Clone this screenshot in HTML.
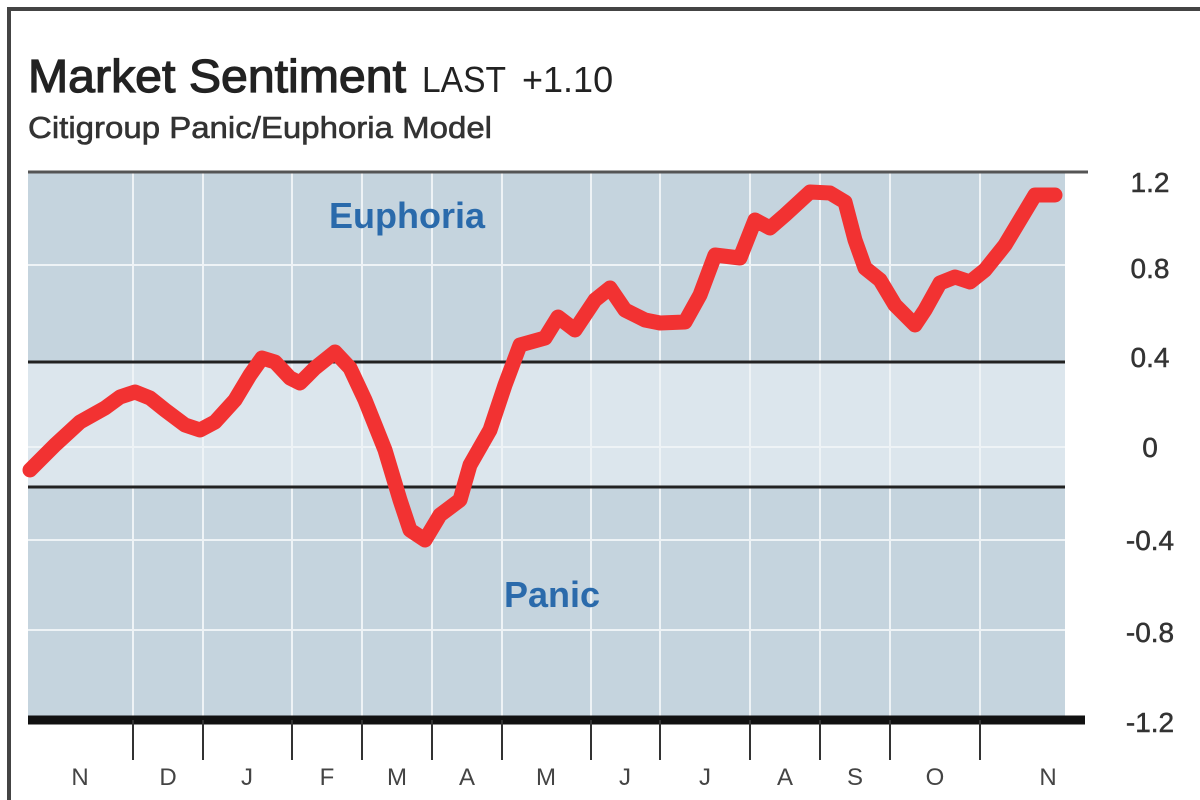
<!DOCTYPE html>
<html><head><meta charset="utf-8"><style>
html,body{margin:0;padding:0;background:#fff;width:1200px;height:800px;overflow:hidden}
</style></head><body>
<svg width="1200" height="800" viewBox="0 0 1200 800" xmlns="http://www.w3.org/2000/svg" font-family="Liberation Sans, sans-serif">
<rect x="0" y="0" width="1200" height="800" fill="#fff"/>
<path d="M9 800 V9 H1200" fill="none" stroke="#444" stroke-width="4"/>
<text x="28" y="92" font-size="46" fill="#222" stroke="#222" stroke-width="1.2" textLength="378" lengthAdjust="spacingAndGlyphs">Market Sentiment</text>
<text x="422" y="92" font-size="36" fill="#222" textLength="84" lengthAdjust="spacingAndGlyphs">LAST</text>
<text x="522" y="92" font-size="36" fill="#222">+1.10</text>
<text x="28" y="138" font-size="31" fill="#333" stroke="#333" stroke-width="0.6" textLength="464" lengthAdjust="spacingAndGlyphs">Citigroup Panic/Euphoria Model</text>
<rect x="28" y="172" width="1037" height="548" fill="#c5d4de"/>
<rect x="28" y="362" width="1037" height="125" fill="#dce6ed"/>
<g stroke="#eef3f6" stroke-width="2">
<line x1="133" y1="172" x2="133" y2="720"/><line x1="203" y1="172" x2="203" y2="720"/>
<line x1="292" y1="172" x2="292" y2="720"/><line x1="362" y1="172" x2="362" y2="720"/>
<line x1="432" y1="172" x2="432" y2="720"/><line x1="502" y1="172" x2="502" y2="720"/>
<line x1="591" y1="172" x2="591" y2="720"/><line x1="660" y1="172" x2="660" y2="720"/>
<line x1="750" y1="172" x2="750" y2="720"/><line x1="820" y1="172" x2="820" y2="720"/>
<line x1="890" y1="172" x2="890" y2="720"/><line x1="980" y1="172" x2="980" y2="720"/>
<line x1="28" y1="265" x2="1065" y2="265"/><line x1="28" y1="447" x2="1065" y2="447"/>
<line x1="28" y1="540" x2="1065" y2="540"/><line x1="28" y1="630" x2="1065" y2="630"/>
</g>
<line x1="28" y1="172" x2="1088" y2="172" stroke="#555" stroke-width="3"/>
<line x1="28" y1="362" x2="1065" y2="362" stroke="#222" stroke-width="3"/>
<line x1="28" y1="487" x2="1065" y2="487" stroke="#222" stroke-width="3"/>
<line x1="28" y1="720" x2="1085" y2="720" stroke="#111" stroke-width="9"/>
<g stroke="#333" stroke-width="2">
<line x1="133" y1="720" x2="133" y2="760"/><line x1="203" y1="720" x2="203" y2="760"/>
<line x1="292" y1="720" x2="292" y2="760"/><line x1="362" y1="720" x2="362" y2="760"/>
<line x1="432" y1="720" x2="432" y2="760"/><line x1="502" y1="720" x2="502" y2="760"/>
<line x1="591" y1="720" x2="591" y2="760"/><line x1="660" y1="720" x2="660" y2="760"/>
<line x1="750" y1="720" x2="750" y2="760"/><line x1="820" y1="720" x2="820" y2="760"/>
<line x1="890" y1="720" x2="890" y2="760"/><line x1="980" y1="720" x2="980" y2="760"/>
</g>
<g font-size="24" fill="#444" text-anchor="middle">
<text x="80" y="785">N</text><text x="168" y="785">D</text><text x="247" y="785">J</text>
<text x="327" y="785">F</text><text x="397" y="785">M</text><text x="467" y="785">A</text>
<text x="546" y="785">M</text><text x="625" y="785">J</text><text x="705" y="785">J</text>
<text x="785" y="785">A</text><text x="855" y="785">S</text><text x="935" y="785">O</text>
<text x="1048" y="785">N</text>
</g>
<g font-size="28" fill="#333" stroke="#333" stroke-width="0.5" text-anchor="middle">
<text x="1150" y="192">1.2</text><text x="1150" y="278">0.8</text><text x="1150" y="367">0.4</text>
<text x="1150" y="457">0</text><text x="1150" y="550">-0.4</text><text x="1150" y="642">-0.8</text>
<text x="1150" y="732">-1.2</text>
</g>
<text x="407" y="228" font-size="36" fill="#2a6aab" text-anchor="middle" font-weight="bold">Euphoria</text>
<text x="552" y="607" font-size="36" fill="#2a6aab" text-anchor="middle" font-weight="bold">Panic</text>
<polyline fill="none" stroke="#f23232" stroke-width="15" stroke-linejoin="round" stroke-linecap="round" points="30,470 55,445 80,422 105,408 120,397 135,392 150,398 165,410 185,425 200,430 215,422 235,400 250,375 262,358 275,362 290,378 300,383 315,368 335,352 350,368 365,400 385,450 400,500 410,530 425,540 440,515 460,500 470,465 490,430 505,385 520,345 545,338 558,317 575,330 595,300 610,288 625,310 645,320 660,323 685,322 700,295 715,255 740,258 755,220 770,228 785,215 810,192 830,193 845,202 855,240 865,268 880,280 895,305 915,325 925,310 940,283 955,277 970,282 985,270 1005,245 1020,220 1035,195 1055,195"/>
</svg>
</body></html>
